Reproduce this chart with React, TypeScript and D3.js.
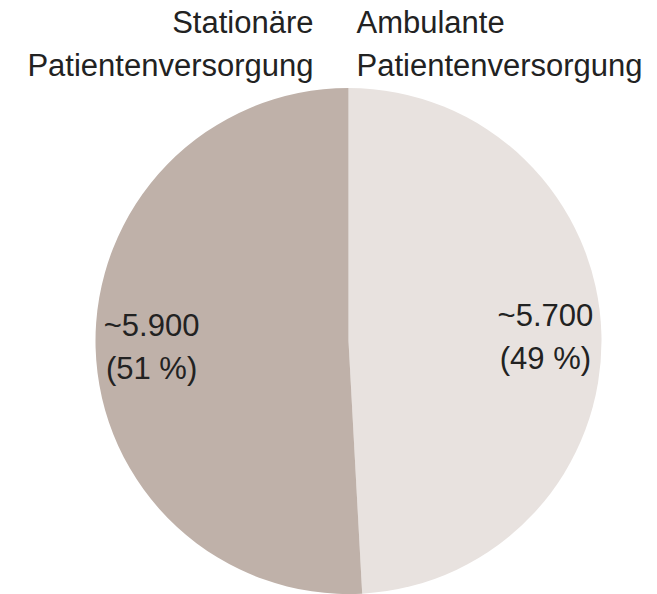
import React from "react";
import * as d3 from "d3";

const categories = ["Ambulante Patientenversorgung", "Stationäre Patientenversorgung"];
const titleLines = [["Ambulante", "Patientenversorgung"], ["Stationäre", "Patientenversorgung"]];
const values = [5700, 5900];
const valueLabels = ["~5.700", "~5.900"];
const percentLabels = ["(49 %)", "(51 %)"];
const colors = ["#e8e2df", "#bfb1a9"];

const W = 657;
const H = 594;
const cx = 348.5;
const cy = 341;
const R = 253;
const labelR = 197;
const FONT = "'Liberation Sans', Arial, sans-serif";
const FS = 31;

export default function App() {
  const pie = d3.pie<number>().sort(null).value((d) => d)(values);
  const arc = d3.arc<d3.PieArcDatum<number>>().innerRadius(0).outerRadius(R);
  const labelArc = d3.arc<d3.PieArcDatum<number>>().innerRadius(labelR).outerRadius(labelR);

  return (
    <div style={{ position: "absolute", left: 0, top: 0 }}>
      <svg width={W} height={H} style={{ display: "block" }}>
        <rect width={W} height={H} fill="#ffffff" />
        <g transform={`translate(${cx},${cy})`}>
          {pie.map((d, i) => (
            <path key={categories[i]} d={arc(d) || ""} fill={colors[i]} />
          ))}
          {pie.map((d, i) => {
            const [x, y] = labelArc.centroid(d);
            return (
              <text key={"l" + i} x={x} textAnchor="middle" fontFamily={FONT} fontSize={FS} fill="#222">
                <tspan x={x} y={y - 10}>{valueLabels[i]}</tspan>
                <tspan x={x} y={y + 33}>{percentLabels[i]}</tspan>
              </text>
            );
          })}
        </g>
        <text x={cx + 8} fontFamily={FONT} fontSize={FS} fill="#222" textAnchor="start">
          <tspan x={cx + 8} y={33}>{titleLines[0][0]}</tspan>
          <tspan x={cx + 8} y={76}>{titleLines[0][1]}</tspan>
        </text>
        <text x={cx - 35} fontFamily={FONT} fontSize={FS} fill="#222" textAnchor="end">
          <tspan x={cx - 35} y={33}>{titleLines[1][0]}</tspan>
          <tspan x={cx - 35} y={76}>{titleLines[1][1]}</tspan>
        </text>
      </svg>
    </div>
  );
}
